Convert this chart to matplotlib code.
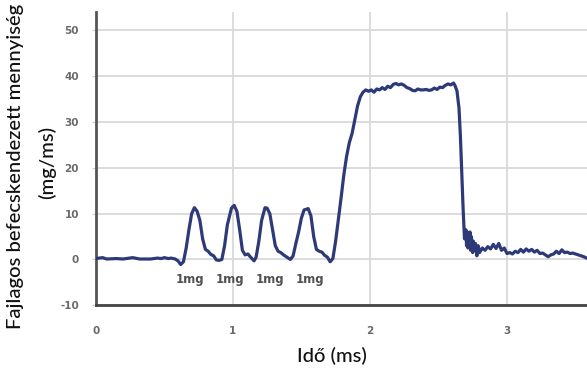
import matplotlib
matplotlib.use("Agg")
import matplotlib.pyplot as plt

plt.rcParams["axes.unicode_minus"] = False

# Time (ms)
time_ms = [0.0, 0.05, 0.08, 0.15, 0.2, 0.27, 0.32, 0.4, 0.45, 0.48, 0.5, 0.53, 0.55, 0.58, 0.6, 0.62, 0.64,
           0.66, 0.68, 0.70, 0.72, 0.74, 0.76, 0.78, 0.80, 0.82, 0.84, 0.86, 0.88, 0.90, 0.92,
           0.94, 0.96, 0.99, 1.01, 1.03, 1.05, 1.07, 1.09, 1.11, 1.13, 1.155, 1.17,
           1.19, 1.21, 1.235, 1.25, 1.27, 1.29, 1.31, 1.33, 1.35, 1.37, 1.40, 1.42, 1.44,
           1.46, 1.48, 1.50, 1.52, 1.55, 1.57, 1.59, 1.61, 1.63, 1.65, 1.67, 1.69, 1.71, 1.73,
           1.75, 1.77, 1.79, 1.81, 1.83, 1.85, 1.87, 1.89, 1.91, 1.93, 1.95, 1.97, 1.99, 2.01,
           2.03, 2.05, 2.07, 2.09, 2.11, 2.13, 2.15, 2.17, 2.19, 2.21, 2.23, 2.25, 2.27, 2.29,
           2.31, 2.33, 2.35, 2.37, 2.39, 2.41, 2.43, 2.45, 2.47, 2.49, 2.51, 2.53, 2.55, 2.57,
           2.59, 2.61, 2.62, 2.635, 2.65, 2.66, 2.67, 2.68, 2.69, 2.70, 2.705, 2.71, 2.715,
           2.72, 2.725, 2.73, 2.735, 2.74, 2.75, 2.755, 2.76, 2.77, 2.78, 2.79, 2.80, 2.82,
           2.84, 2.86, 2.88, 2.90, 2.92, 2.94, 2.96, 2.98, 3.00, 3.02, 3.04, 3.06, 3.08, 3.10,
           3.12, 3.14, 3.16, 3.18, 3.20, 3.22, 3.24, 3.26, 3.28, 3.30, 3.32, 3.34, 3.36, 3.38,
           3.40, 3.42, 3.44, 3.46, 3.48, 3.50, 3.52, 3.54, 3.56, 3.58, 3.60]

# Specific injected quantity (mg/ms)
rate = [0.2, 0.4, 0.1, 0.2, 0.1, 0.4, 0.1, 0.1, 0.3, 0.2, 0.4, 0.2, 0.3, 0.1, -0.3, -1.1, -0.5,
        2.5, 6.5, 10.0, 11.3, 10.5, 8.5, 4.5, 2.2, 1.8, 1.1, 0.8, -0.1, -0.2, 0.0,
        3.0, 7.5, 11.2, 11.8, 10.5, 6.5, 2.0, 1.0, 1.2, 0.5, -0.3, 0.5,
        4.0, 8.5, 11.3, 11.2, 10.0, 6.5, 3.0, 1.8, 1.5, 1.0, 0.4, 0.0, 0.8,
        3.5, 6.0, 9.0, 10.8, 11.1, 9.5, 5.0, 2.2, 1.8, 1.6, 0.9, 0.5, -0.5, 0.2,
        4.0, 8.7, 13.5, 18.5, 22.5, 25.5, 27.5, 30.5, 33.5, 35.5, 36.5, 37.0, 36.7, 37.0,
        36.5, 37.2, 37.0, 37.5, 37.1, 37.8, 37.5, 38.2, 38.4, 38.1, 38.3, 38.0, 37.5, 37.3,
        36.9, 36.8, 37.2, 37.0, 37.0, 37.1, 36.9, 37.0, 37.4, 37.1, 37.6, 37.5, 38.0, 38.3,
        38.1, 38.5, 38.0, 36.8, 33.0, 27.0, 19.0, 11.0, 4.5, 6.5, 3.0, 6.0, 2.5,
        5.5, 3.5, 6.0, 2.0, 5.0, 1.5, 4.0, 2.0, 3.5, 0.8, 3.0, 1.5, 2.5,
        2.0, 2.8, 2.3, 3.3, 2.4, 3.5, 2.0, 2.5, 1.3, 1.5, 1.2, 1.8, 1.5, 2.2,
        1.6, 2.3, 1.8, 2.2, 1.6, 2.0, 1.3, 1.4, 1.0, 0.6, 1.0, 1.2, 1.8, 1.3,
        2.1, 1.5, 1.6, 1.3, 1.4, 1.2, 1.0, 0.8, 0.6, 0.3, 0.2]

pulse_labels = ["1mg", "1mg", "1mg", "1mg"]
pulse_label_x = [0.69, 0.98, 1.27, 1.56]
pulse_label_y = -4.4

x_ticks = [0, 1, 2, 3]
y_ticks = [-10, 0, 10, 20, 30, 40, 50]

W, H = 587, 369
fig = plt.figure(figsize=(W / 100, H / 100), dpi=100)
ax = fig.add_axes([95.7 / W, 1 - 305.3 / H, (W - 95.7) / W, (305.3 - 12) / H])

ax.plot(time_ms, rate, color="#2e3a78", lw=2.3, solid_joinstyle="round", zorder=3)

ax.set_xlim(0, (W - 95.7) / 137.1)
ax.set_ylim(-10, 54)
ax.set_xticks(x_ticks)
ax.set_yticks(y_ticks)
ax.grid(True, color="#d9d9d9", lw=1.3)
ax.set_axisbelow(True)

for s in ["top", "right"]:
    ax.spines[s].set_visible(False)
ax.spines["left"].set_color("#555555")
ax.spines["left"].set_linewidth(2.0)
ax.spines["bottom"].set_color("#444444")
ax.spines["bottom"].set_linewidth(2.0)

ax.tick_params(axis="y", length=3, color="#cccccc", pad=9,
               labelsize=7.5, labelcolor="#6a6a6a")
ax.tick_params(axis="x", length=0, pad=15, labelsize=7.5, labelcolor="#6a6a6a")
for lbl in ax.get_xticklabels() + ax.get_yticklabels():
    lbl.set_fontweight("bold")

for lx, lt in zip(pulse_label_x, pulse_labels):
    ax.text(lx, pulse_label_y, lt, ha="center", va="center", fontsize=8.5,
            color="#505050", fontweight="bold")

lab_kw = dict(family="Lato", color="#111111", fontweight="medium")
fig.text(16 / W, 1 - 166 / H, "Fajlagos befecskendezett mennyiség",
         rotation=90, ha="center", va="center", fontsize=14.6, **lab_kw)
fig.text(47 / W, 1 - 162 / H, "(mg/ms)",
         rotation=90, ha="center", va="center", fontsize=14.6, **lab_kw)
fig.text(332 / W, 1 - 356 / H, "Idő (ms)", ha="center", va="center",
         fontsize=14.5, **lab_kw)

fig.savefig("out.png", dpi=100)
